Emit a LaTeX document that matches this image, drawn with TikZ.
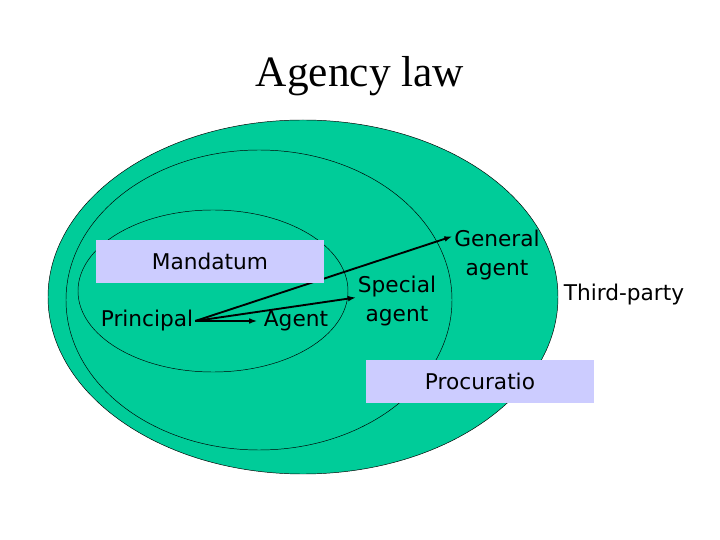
\documentclass[tikz,border=0pt]{standalone}
\usepackage{fontspec}
\setmainfont{Liberation Serif}
\newfontfamily\labelfont{DejaVu Sans}
\usetikzlibrary{arrows.meta,positioning}
\definecolor{lawgreen}{RGB}{0,204,153}
\definecolor{lavender}{RGB}{204,204,255}

\begin{document}
\begin{tikzpicture}[x=0.03cm,y=-0.03cm,
lbl/.style={inner sep=1.5pt,align=center,font=\labelfont\fontsize{18.5}{24.5}\selectfont},
tag/.style={lbl,fill=lavender,minimum width=228*0.03cm,minimum height=43*0.03cm},
arr/.style={-{Latex[length=2.4mm,width=1.7mm]},line width=1.6pt}]
\useasboundingbox (0,0) rectangle (720,540);
% nested scopes of authority
\draw[fill=lawgreen] (303,297) ellipse [x radius=255,y radius=177];
\draw[thin] (259,300) ellipse [x radius=193,y radius=150];
\draw[thin] (213,291) ellipse [x radius=135,y radius=81];
\node[font=\fontsize{37}{40}\selectfont] (title) at (360,76) {Agency law};
\node[lbl] (prin) at (147,321) {Principal};
\node[lbl] (agent) at (296,321) {Agent};
\node[lbl] (spec) at (397,301) {Special\\agent};
\node[lbl] (gen) at (497,255) {General\\agent};
\node[lbl] (third) at (624,295) {Third-party};
\draw[arr,shorten >=4pt] (prin.east) -- (agent.west);
\draw[arr] (prin.east) -- ([yshift=3pt]spec.west);
\draw[arr] (prin.east) -- ([yshift=-7pt]gen.north west);
% boxes on top
\node[tag] (mand) at (210,261.5) {Mandatum};
\node[tag] (proc) at (480,381.5) {Procuratio};
\end{tikzpicture}
\end{document}
